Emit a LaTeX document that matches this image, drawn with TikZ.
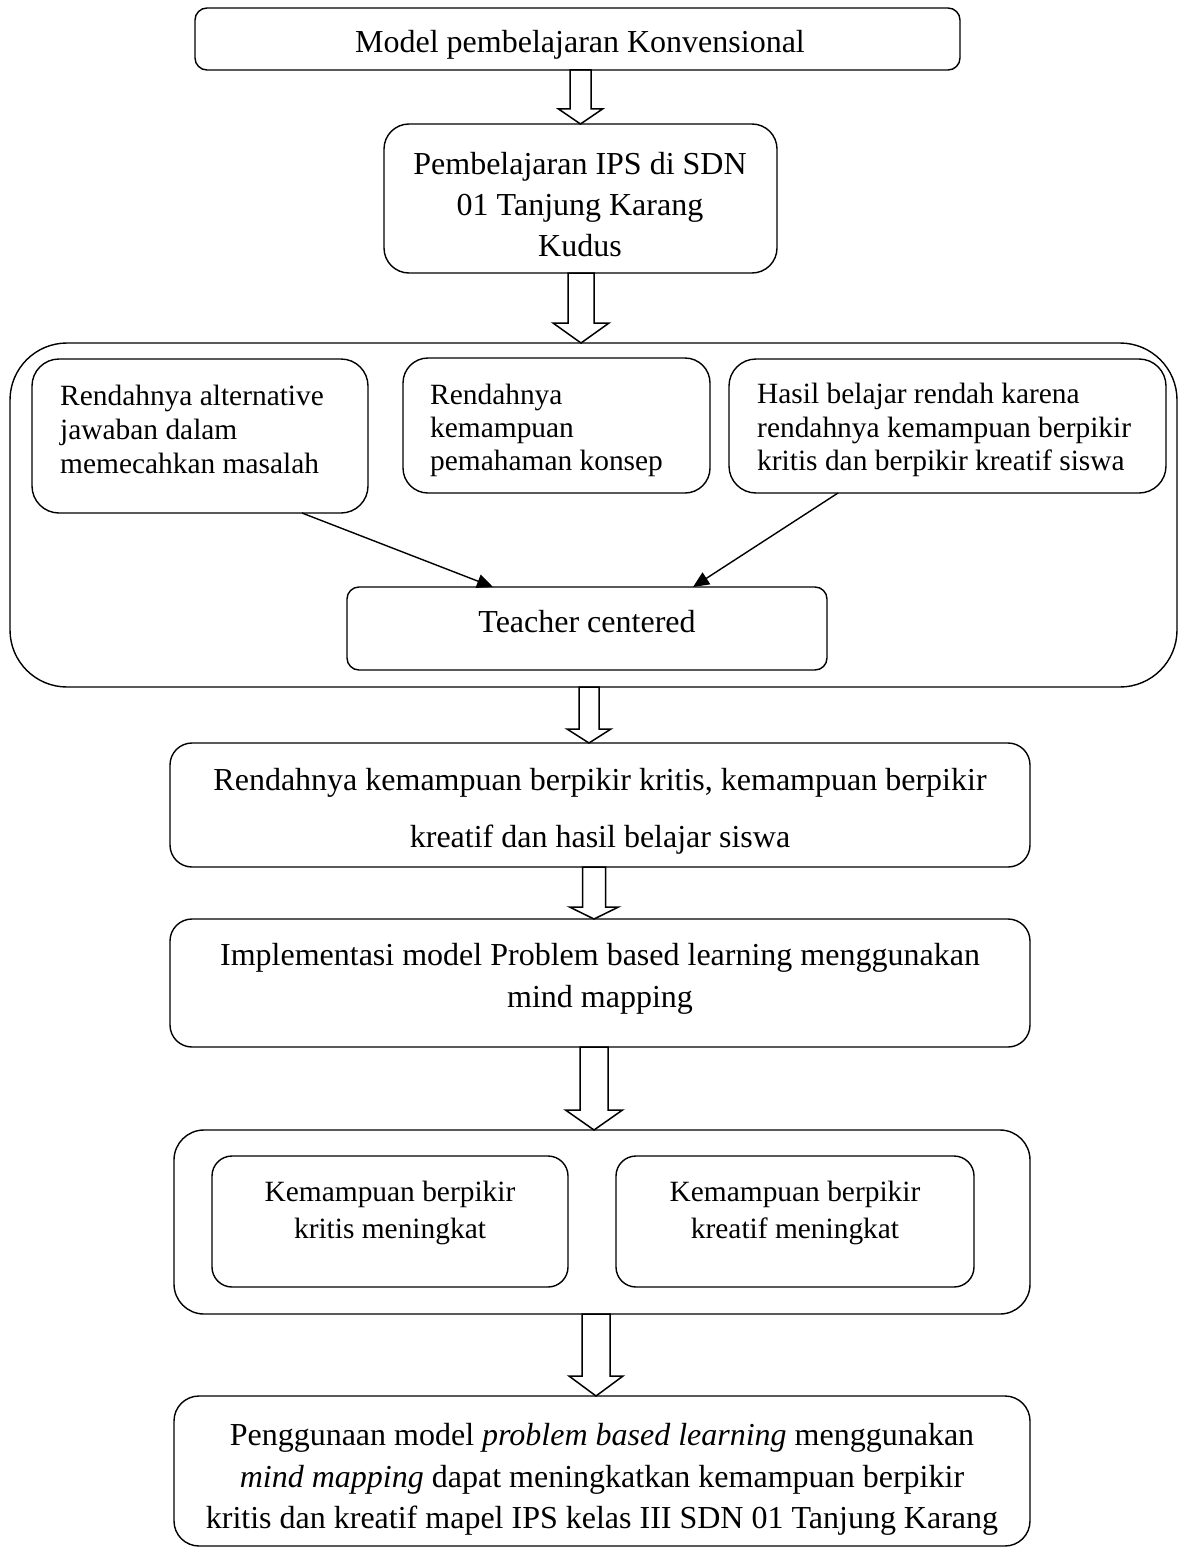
\documentclass[tikz,border=0pt]{standalone}
\usepackage{fontspec}
\setmainfont{Liberation Serif}
\usetikzlibrary{arrows.meta,calc}
\tikzset{
  bx/.style={draw, line width=1.4pt, inner sep=0pt, outer sep=0pt, anchor=north west},
  big/.style={font=\fontsize{32}{40}\selectfont, inner sep=0pt, anchor=base},
  sm/.style={font=\fontsize{29.4}{34}\selectfont, inner sep=0pt, anchor=base},
  smL/.style={sm, anchor=base west},
  blk/.style={draw, line width=1.5pt, line join=miter},
  con/.style={line width=1.4pt, -{Triangle[length=16pt,width=14pt]}},
}
% name, x, y, width, height, radius
\newcommand\mybox[6]{\node[bx, rounded corners=#6pt, minimum width=#4pt, minimum height=#5pt] (#1) at (#2,#3) {};}
% from, to, x centre, shaft half width, head half width, head length
\newcommand\barrow[6]{\draw[blk] let \p1=(#1.south), \p2=(#2.north) in
  (#3pt-#4pt,\y1) -- (#3pt+#4pt,\y1) -- (#3pt+#4pt,\y2+#6pt) -- (#3pt+#5pt,\y2+#6pt)
  -- (#3pt,\y2) -- (#3pt-#5pt,\y2+#6pt) -- (#3pt-#4pt,\y2+#6pt) -- cycle;}
\begin{document}
\begin{tikzpicture}[x=1pt,y=-1pt]
\useasboundingbox[fill=white] (0,0) rectangle (1179,1552);
% boxes
\mybox{b1}{195}{8}{765}{62}{12}
\mybox{b2}{384}{124}{393}{149}{25}
\mybox{cont}{10}{343}{1167}{344}{57}
\mybox{b3a}{32}{359}{336}{154}{27}
\mybox{b3b}{403}{358}{307}{135}{25}
\mybox{b3c}{729}{359}{437}{134}{27}
\mybox{tc}{347}{587}{480}{83}{12}
\mybox{b4}{170}{743}{860}{124}{22}
\mybox{b5}{170}{919}{860}{128}{22}
\mybox{cont2}{174}{1130}{856}{184}{30}
\mybox{b6a}{212}{1156}{356}{131}{20}
\mybox{b6b}{616}{1156}{358}{131}{20}
\mybox{b7}{174}{1396}{856}{150}{25}
% texts
\node[big] (t1) at (580,53) {Model pembelajaran Konvensional};
\node[big] (t2a) at (580,174) {Pembelajaran IPS di SDN};
\node[big] (t2b) at (580,215) {01 Tanjung Karang};
\node[big] (t2c) at (580,256) {Kudus};
\node[smL] (t3a1) at (60,405) {Rendahnya alternative};
\node[smL] (t3a2) at (60,439) {jawaban dalam};
\node[smL] (t3a3) at (60,473) {memecahkan masalah};
\node[smL] (t3b1) at (430,404) {Rendahnya};
\node[smL] (t3b2) at (430,437) {kemampuan};
\node[smL] (t3b3) at (430,470) {pemahaman konsep};
\node[smL] (t3c1) at (757,403) {Hasil belajar rendah karena};
\node[smL] (t3c2) at (757,437) {rendahnya kemampuan berpikir};
\node[smL] (t3c3) at (757,470) {kritis dan berpikir kreatif siswa};
\node[big] (ttc) at (587,632) {Teacher centered};
\node[big] (t4a) at (600,790) {Rendahnya kemampuan berpikir kritis, kemampuan berpikir};
\node[big] (t4b) at (600,847) {kreatif dan hasil belajar siswa};
\node[big] (t5a) at (600,965) {Implementasi model Problem based learning menggunakan};
\node[big] (t5b) at (600,1007) {mind mapping};
\node[sm] (t6a1) at (390,1201) {Kemampuan berpikir};
\node[sm] (t6a2) at (390,1238) {kritis meningkat};
\node[sm] (t6b1) at (795,1201) {Kemampuan berpikir};
\node[sm] (t6b2) at (795,1238) {kreatif meningkat};
\node[big] (t7a) at (602,1445) {Penggunaan model \textit{problem based learning} menggunakan};
\node[big] (t7b) at (602,1487) {\textit{mind mapping} dapat meningkatkan kemampuan berpikir};
\node[big] (t7c) at (602,1528) {kritis dan kreatif mapel IPS kelas III SDN 01 Tanjung Karang};
% block arrows
\barrow{b1}{b2}{580.5}{10.5}{22}{15}
\barrow{b2}{cont}{581}{13}{28}{20}
\barrow{cont}{b4}{589}{10}{22}{14}
\barrow{b4}{b5}{594}{11.5}{24.5}{12}
\barrow{b5}{cont2}{594}{14}{28.5}{20}
\barrow{cont2}{b7}{596}{14}{27}{20}
% connectors
\draw[con] ($(b3a.south west)+(270,0)$) -- ($(tc.north west)+(146,0)$);
\draw[con] ($(b3c.south west)+(109,0)$) -- ($(tc.north west)+(346,0)$);
\end{tikzpicture}
\end{document}
